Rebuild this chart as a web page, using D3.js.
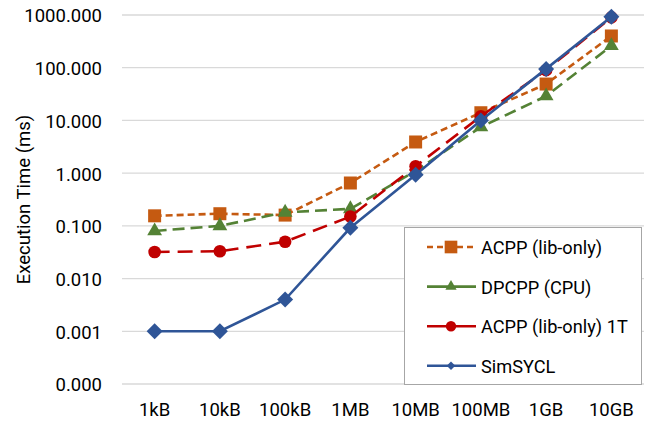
<!DOCTYPE html>
<html><head><meta charset="utf-8">
<script src="https://cdn.jsdelivr.net/npm/d3@7"></script>
<style>body{margin:0;background:#fff}svg{display:block}text{font-family:Roboto,sans-serif;fill:#000}</style>
</head><body><svg id="c" width="648" height="423"></svg>
<script>
const categories = ["1kB","10kB","100kB","1MB","10MB","100MB","1GB","10GB"];
const acppLib   = [0.155,0.17,0.16,0.65,3.9,14,49,400];
const dpcppCpu  = [0.08,0.1,0.18,0.21,1.1,7.5,29,260];
const acppLib1T = [0.032,0.033,0.05,0.15,1.35,12,90,900];
const simSycl   = [0.001,0.001,0.004,0.092,0.93,10,95,930];
const yTicks = [0.0001,0.001,0.01,0.1,1,10,100,1000];
const seriesNames = ["ACPP (lib-only)","DPCPP (CPU)","ACPP (lib-only) 1T","SimSYCL"];

const series = [
  {name:seriesNames[0], values:acppLib,   color:"#C55A11", dash:"7,4",  marker:"square"},
  {name:seriesNames[1], values:dpcppCpu,  color:"#548235", dash:"12,6", marker:"triangle"},
  {name:seriesNames[2], values:acppLib1T, color:"#C00000", dash:"15,8", marker:"circle"},
  {name:seriesNames[3], values:simSycl,   color:"#2F5597", dash:null,   marker:"diamond"}
];

const svg = d3.select("#c");
const L=122, R=644, T=15, B=384;
const x = d3.scaleBand().domain(categories).range([L,R]);
const y = d3.scaleLog().domain([0.0001,1000]).range([B,T]);

// gridlines
svg.append("g").selectAll("line").data(yTicks).join("line")
  .attr("x1",L).attr("x2",R).attr("y1",d=>y(d)).attr("y2",d=>y(d))
  .attr("stroke","#d9d9d9").attr("stroke-width",1.3);

// y axis labels
const yAxis = d3.axisLeft(y).tickValues(yTicks).tickFormat(d3.format(".3f")).tickSize(0).tickPadding(0);
const gy = svg.append("g").attr("transform",`translate(102,0)`).call(yAxis);
gy.select(".domain").remove();
gy.selectAll("text").style("font-size","18.5px").style("font-family","Roboto").attr("fill","#000").attr("dy","0.37em");

// x axis labels
const xAxis = d3.axisBottom(x).tickSize(0).tickPadding(0);
const gx = svg.append("g").attr("transform",`translate(0,416)`).call(xAxis);
gx.select(".domain").remove();
gx.selectAll("text").style("font-size","18.5px").style("font-family","Roboto").attr("fill","#000").attr("y",0).attr("dy",null);

// y title
svg.append("text").attr("transform",`translate(30,${(T+B)/2}) rotate(-90)`)
  .attr("text-anchor","middle").style("font-size","18.5px").text("Execution Time (ms)");

const cx = c => x(c)+x.bandwidth()/2;
const sym = {
  square: {t:d3.symbolSquare, s:169, r:0},
  triangle: {t:d3.symbolTriangle, s:95, r:0},
  circle: {t:d3.symbolCircle, s:125, r:0},
  diamond: {t:d3.symbolSquare, s:128, r:45}
};
const legSym = {
  square: {t:d3.symbolSquare, s:160, r:0},
  triangle: {t:d3.symbolTriangle, s:55, r:0},
  circle: {t:d3.symbolCircle, s:85, r:0},
  diamond: {t:d3.symbolSquare, s:36, r:45}
};
const line = d3.line().x((d,i)=>cx(categories[i])).y(d=>y(d));

series.forEach(s=>{
  const g = svg.append("g");
  g.append("path").attr("d",line(s.values)).attr("fill","none")
    .attr("stroke",s.color).attr("stroke-width",2.6)
    .attr("stroke-dasharray",s.dash);
  const m = sym[s.marker];
  g.selectAll("path.m").data(s.values).join("path").attr("class","m")
    .attr("transform",(d,i)=>`translate(${cx(categories[i])},${y(d)}) rotate(${m.r})`)
    .attr("d",d3.symbol().type(m.t).size(m.s)).attr("fill",s.color);
});

// legend
const lg = svg.append("g");
lg.append("rect").attr("x",404.5).attr("y",227.5).attr("width",237).attr("height",157)
  .attr("fill","#fff").attr("stroke","#a6a6a6").attr("stroke-width",1);
series.forEach((s,i)=>{
  const yy = 247 + i*39.6;
  lg.append("line").attr("x1",427).attr("x2",476).attr("y1",yy).attr("y2",yy)
    .attr("stroke",s.color).attr("stroke-width",2.6)
    .attr("stroke-dasharray", i===0 ? "6,4" : null);
  const m = legSym[s.marker];
  lg.append("path").attr("transform",`translate(451,${yy}) rotate(${m.r})`)
    .attr("d",d3.symbol().type(m.t).size(m.s)).attr("fill",s.color);
  lg.append("text").attr("x",481).attr("y",yy+7).style("font-size","18.2px").text(s.name);
});
</script></body></html>
